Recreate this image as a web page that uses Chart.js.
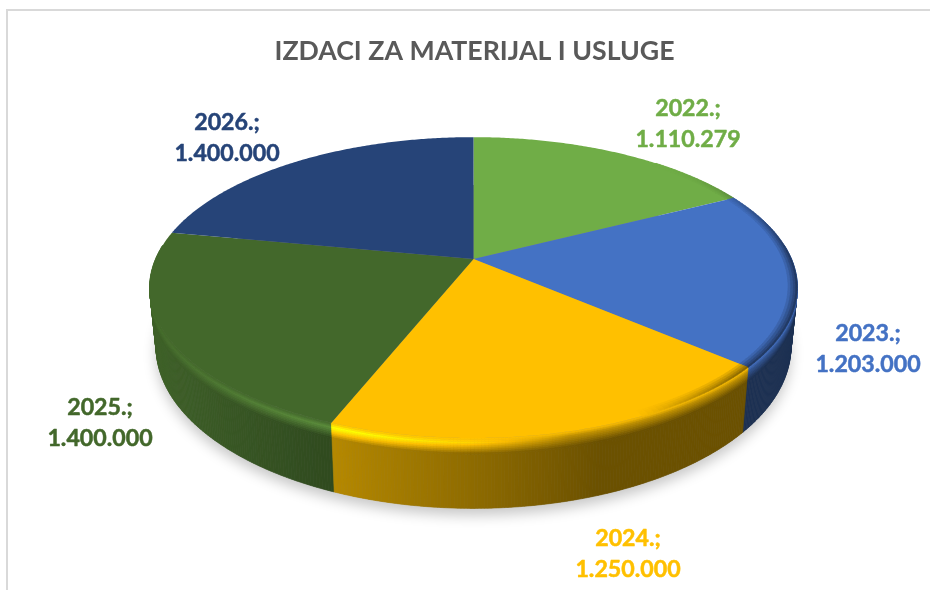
<!DOCTYPE html>
<html><head><meta charset="utf-8">
<script src="https://cdn.jsdelivr.net/npm/chart.js@4"></script>
<style>html,body{margin:0;padding:0;background:#fff}#w{width:930px;height:590px}</style>
</head><body><div id="w"><canvas id="c" width="930" height="590"></canvas></div>
<script>
const chartTitle = 'IZDACI ZA MATERIJAL I USLUGE';
const categories = ['2022.', '2023.', '2024.', '2025.', '2026.'];
const values = [1110279, 1203000, 1250000, 1400000, 1400000];
const sliceColors = ['#70AD47', '#4472C4', '#FFC000', '#43682B', '#264478'];
const labelCenters = [[688, 108.5], [868, 333.5], [628, 538.5], [100, 407.5], [227, 122.5]];

const view = {cx: 473.5, cy: 259, rx: 318, ky: 145, persp: 0.19, depth: 57, shrink: 0.02};
const FONT = 'Lato, Carlito, sans-serif';

function project(a, rho, h) {
  const u = rho * Math.cos(a), v = rho * Math.sin(a), w = 1 - view.persp * v;
  return [view.cx + view.rx * u / w * (1 - view.shrink * h),
          view.cy + view.ky * v / w + view.depth * h / w];
}
function rgb(hex) { return [1, 3, 5].map(i => parseInt(hex.slice(i, i + 2), 16)); }
function times(c, f) { return 'rgb(' + c.map(v => Math.min(255, Math.round(v * f))).join(',') + ')'; }
function interp(xs, ys, x) {
  if (x <= xs[0]) return ys[0];
  for (let i = 1; i < xs.length; i++) if (x <= xs[i]) return ys[i - 1] + (ys[i] - ys[i - 1]) * (x - xs[i - 1]) / (xs[i] - xs[i - 1]);
  return ys[ys.length - 1];
}
const wallShade = x => interp([150, 333, 600], [0.93, 0.71, 0.42], x);
const rimLight = x => interp([160, 250, 340, 470, 570], [1.05, 1.22, 1.36, 1.1, 0.75], x);
const heights = [0, .025, .05, .075, .1, .125, .15, .175, .2, .23, 1];
function wallFactor(x, h) {
  const t = Math.min(1, h / 0.21), hl = rimLight(x), f = wallShade(x);
  return t < 0.3 ? 1 + (hl - 1) * (t / 0.3) : hl + (f - hl) * ((t - 0.3) / 0.7);
}
function quad(ctx, pts, fill) {
  ctx.beginPath();
  pts.forEach((p, i) => i ? ctx.lineTo(p[0], p[1]) : ctx.moveTo(p[0], p[1]));
  ctx.closePath();
  ctx.fillStyle = fill; ctx.strokeStyle = fill; ctx.lineWidth = 0.6;
  ctx.fill(); ctx.stroke();
}

const pie3d = {
  id: 'pie3d',
  beforeDatasetsDraw(chart) {
    const ctx = chart.ctx, arcs = chart.getDatasetMeta(0).data;
    const step = Math.PI / 360;
    ctx.save();
    // frame
    ctx.fillStyle = '#d9d9d9';
    ctx.fillRect(6, 9, 924, 2);
    ctx.fillRect(6, 9, 2, 581);
    // soft shadow under the base
    ctx.save();
    ctx.shadowColor = 'rgba(0,0,0,0.22)'; ctx.shadowBlur = 13; ctx.shadowOffsetY = 7;
    ctx.fillStyle = '#888';
    ctx.beginPath();
    for (let a = 0; a < Math.PI * 2; a += step * 2) { const p = project(a, 1, 1); ctx.lineTo(p[0], p[1]); }
    ctx.closePath(); ctx.fill();
    ctx.restore();
    // wall, back to front
    const quads = [];
    arcs.forEach((arc, i) => {
      const c = rgb(sliceColors[i]);
      for (let a = arc.startAngle; a < arc.endAngle - 1e-6; a += step) {
        const b = Math.min(a + step, arc.endAngle), m = (a + b) / 2;
        if (Math.sin(m) < -0.1) continue;
        quads.push({a, b, m, c, order: Math.sin(m)});
      }
    });
    quads.sort((q, r) => q.order - r.order);
    quads.forEach(q => {
      for (let k = heights.length - 2; k >= 0; k--) {
        const h0 = heights[k], h1 = heights[k + 1];
        const x = project(q.m, 1, h0)[0];
        quad(ctx, [project(q.a, 1, h0), project(q.b, 1, h0), project(q.b, 1, h1), project(q.a, 1, h1)],
             times(q.c, wallFactor(x, (h0 + h1) / 2)));
      }
    });
    // top face
    arcs.forEach((arc, i) => {
      ctx.beginPath();
      ctx.moveTo(view.cx, view.cy);
      for (let a = arc.startAngle; a < arc.endAngle; a += step) { const p = project(a, 1, 0); ctx.lineTo(p[0], p[1]); }
      const e = project(arc.endAngle, 1, 0); ctx.lineTo(e[0], e[1]);
      ctx.closePath();
      ctx.fillStyle = sliceColors[i]; ctx.fill();
    });
    // thin dark edge on the right of the top face
    arcs.forEach((arc, i) => {
      const c = rgb(sliceColors[i]);
      for (let a = arc.startAngle; a < arc.endAngle - 1e-6; a += step * 2) {
        const b = Math.min(a + step * 2, arc.endAngle), m = (a + b) / 2;
        const x = project(m, 1, 0)[0];
        const s = Math.max(0, Math.min(1, (x - 640) / 110)) * Math.max(0, Math.min(1, (Math.sin(m) + 0.75) / 0.7));
        if (s <= 0) continue;
        const rings = [0.972, 0.98, 0.988, 0.995, 1];
        for (let k = 0; k < rings.length - 1; k++) {
          const t = (k + 1) / (rings.length - 1);
          quad(ctx, [project(a, rings[k], 0), project(b, rings[k], 0), project(b, rings[k + 1], 0), project(a, rings[k + 1], 0)],
               times(c, 1 - 0.5 * s * t));
        }
      }
    });
    ctx.restore();
    return false;
  },
  afterDraw(chart) {
    const ctx = chart.ctx;
    ctx.save();
    ctx.font = 'bold 23.2px ' + FONT;
    ctx.textAlign = 'center'; ctx.textBaseline = 'middle';
    ctx.lineWidth = 0.5; ctx.lineJoin = 'round';
    const put = (text, x, y) => { ctx.fillText(text, x, y); ctx.strokeText(text, x, y); };
    categories.forEach((cat, i) => {
      ctx.fillStyle = sliceColors[i]; ctx.strokeStyle = sliceColors[i];
      const [x, y] = labelCenters[i];
      put(cat + ';', x, y);
      put(String(values[i]).replace(/\B(?=(\d{3})+$)/g, '.'), x, y + 31.5);
    });
    ctx.restore();
  }
};

new Chart(document.getElementById('c'), {
  type: 'pie',
  data: {labels: categories, datasets: [{data: values, backgroundColor: sliceColors, borderWidth: 0}]},
  options: {
    responsive: false, animation: false,
    layout: {padding: {left: 19, top: 0}},
    plugins: {
      legend: {display: false}, tooltip: {enabled: false},
      title: {display: true, text: chartTitle, color: '#595959',
              font: {family: FONT, size: 26.7, weight: 'bold'}, padding: {top: 35, bottom: 10}}
    }
  },
  plugins: [pie3d]
});
</script></body></html>
